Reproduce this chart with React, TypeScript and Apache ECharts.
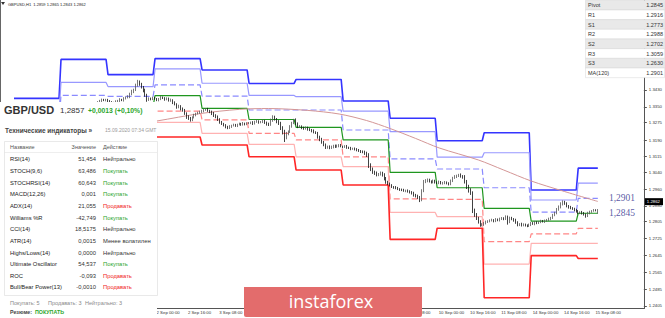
import React, { useEffect, useRef } from "react";
import * as echarts from "echarts";

// ---------- data ----------
const CAT_DAYS = ["28 Aug", "31 Aug", "1 Sep", "2 Sep", "3 Sep", "4 Sep", "7 Sep", "8 Sep", "9 Sep", "10 Sep", "11 Sep", "14 Sep", "15 Sep", "16 Sep"];
const CAT_DAY_BARS = [24, 24, 24, 24, 24, 24, 24, 24, 24, 24, 24, 24, 24, 10];
// bars with price data per day (last day is partial)
const DAY_BARS = [24, 24, 24, 24, 24, 24, 24, 24, 24, 24, 24, 24, 11];

// daily pivot levels (28 Aug ... 15 Sep)
const R3 = [1.3390, 1.3575, 1.3503, 1.3579, 1.3525, 1.3461, 1.3480, 1.3378, 1.3296, 1.3189, 1.3227, 1.2955, 1.3059];
const R2 = [1.3325, 1.3466, 1.3446, 1.3530, 1.3462, 1.3404, 1.3398, 1.3330, 1.3232, 1.3111, 1.3132, 1.2908, 1.2988];
const R1 = [1.3285, 1.3404, 1.3400, 1.3454, 1.3401, 1.3335, 1.3335, 1.3240, 1.3103, 1.3055, 1.2966, 1.2850, 1.2916];
const PIVOT = [1.3218, 1.3340, 1.3352, 1.3403, 1.3343, 1.3290, 1.3253, 1.3193, 1.3039, 1.2966, 1.2868, 1.2808, 1.2845];
const S1 = [1.3176, 1.3280, 1.3310, 1.3330, 1.3288, 1.3224, 1.3193, 1.3113, 1.2913, 1.2911, 1.2710, 1.2747, 1.2773];
const S2 = [1.3110, 1.3215, 1.3258, 1.3276, 1.3224, 1.3172, 1.3113, 1.3066, 1.2849, 1.2829, 1.2604, 1.2702, 1.2702];
const S3 = [1.3068, 1.3150, 1.3215, 1.3207, 1.3169, 1.3113, 1.3050, 1.2979, 1.2721, 1.2774, 1.2444, 1.2644, 1.2630];

// hourly closes in pips (1.2862 -> 12862)
const CLOSE = [
  13245, 13252, 13248, 13258, 13262, 13255, 13268, 13275, 13271, 13280, 13292, 13288, 13297, 13301, 13310, 13305, 13318, 13325, 13330, 13336, 13342, 13338, 13345, 13349,
  13340, 13334, 13342, 13338, 13345, 13341, 13336, 13344, 13348, 13343, 13339, 13346, 13350, 13344, 13348, 13352, 13347, 13355, 13362, 13372, 13379, 13383, 13381, 13384,
  13376, 13372, 13368, 13371, 13375, 13378, 13384, 13381, 13390, 13394, 13397, 13410, 13422, 13430, 13452, 13468, 13458, 13444, 13428, 13406, 13384, 13390, 13386, 13392,
  13388, 13382, 13386, 13394, 13392, 13385, 13389, 13380, 13382, 13370, 13362, 13349, 13352, 13340, 13335, 13318, 13302, 13295, 13288, 13300, 13311, 13318, 13322, 13326,
  13330, 13335, 13338, 13331, 13326, 13318, 13310, 13302, 13290, 13278, 13270, 13262, 13255, 13250, 13256, 13261, 13264, 13260, 13266, 13269, 13265, 13271, 13268, 13272,
  13273, 13276, 13270, 13279, 13282, 13276, 13278, 13284, 13275, 13268, 13264, 13285, 13302, 13292, 13280, 13273, 13250, 13231, 13205, 13222, 13231, 13255, 13273, 13288,
  13270, 13254, 13258, 13250, 13246, 13252, 13243, 13240, 13236, 13230, 13226, 13207, 13196, 13183, 13170, 13159, 13162, 13155, 13160, 13166, 13161, 13164, 13169, 13162,
  13159, 13163, 13157, 13155, 13150, 13153, 13148, 13145, 13141, 13138, 13136, 13130, 13121, 13074, 13055, 13041, 13035, 13027, 13031, 13036, 13027, 13010, 12993, 12985,
  12978, 12970, 12968, 12965, 12960, 12957, 12955, 12951, 12953, 12948, 12946, 12940, 12932, 12927, 12922, 12910, 12951, 12993, 12998, 13003, 12996, 12993, 12998, 12991,
  12989, 12994, 12986, 12989, 12992, 12987, 12984, 12998, 13012, 13018, 13022, 13027, 13020, 13017, 12995, 12970, 12955, 12941, 12860, 12840, 12823, 12805, 12789, 12792,
  12798, 12804, 12808, 12811, 12813, 12809, 12815, 12812, 12818, 12822, 12819, 12827, 12805, 12823, 12818, 12813, 12802, 12789, 12794, 12789, 12792, 12787, 12785, 12790,
  12799, 12795, 12802, 12799, 12804, 12808, 12806, 12811, 12813, 12818, 12823, 12835, 12846, 12862, 12875, 12888, 12898, 12890, 12879, 12874, 12870, 12866, 12860, 12855,
  12846, 12850, 12846, 12840, 12832, 12846, 12852, 12856, 12860, 12859, 12862,
];
// upper / lower wick lengths in pips
const WICK_UP = [
  6, 4, 5, 7, 3, 5, 6, 4, 8, 5, 6, 7, 4, 5, 6, 3, 7, 5, 4, 6, 5, 7, 4, 5,
  5, 6, 4, 7, 5, 3, 6, 4, 5, 7, 6, 4, 5, 8, 6, 5, 4, 7, 6, 5, 4, 6, 5, 4,
  4, 6, 5, 3, 6, 5, 7, 4, 6, 5, 8, 7, 9, 6, 8, 10, 7, 6, 5, 8, 6, 5, 4, 6,
  5, 4, 6, 7, 5, 4, 6, 5, 7, 4, 6, 5, 8, 6, 7, 5, 6, 8, 7, 5, 6, 4, 5, 6,
  6, 5, 4, 7, 5, 6, 8, 5, 7, 6, 5, 4, 6, 5, 7, 4, 6, 5, 4, 6, 5, 7, 4, 5,
  5, 4, 6, 5, 7, 4, 5, 6, 4, 5, 7, 9, 8, 6, 5, 7, 6, 8, 10, 9, 7, 8, 6, 5,
  7, 6, 5, 4, 6, 5, 4, 6, 5, 7, 4, 5, 6, 7, 5, 6, 4, 5, 6, 4, 5, 7, 4, 5,
  4, 5, 6, 4, 5, 3, 4, 6, 5, 4, 5, 6, 7, 9, 8, 7, 6, 8, 5, 7, 6, 8, 7, 6,
  6, 5, 4, 6, 5, 4, 5, 6, 4, 5, 6, 4, 7, 5, 6, 5, 8, 10, 9, 7, 6, 5, 7, 6,
  5, 6, 4, 5, 6, 4, 5, 7, 6, 8, 6, 5, 7, 6, 9, 8, 10, 9, 8, 7, 6, 5, 7, 6,
  5, 6, 4, 5, 6, 4, 7, 5, 6, 5, 4, 8, 7, 6, 5, 4, 6, 5, 4, 6, 5, 4, 5, 6,
  5, 4, 6, 5, 4, 6, 5, 4, 5, 6, 5, 7, 6, 8, 7, 9, 8, 6, 7, 5, 6, 4, 5, 6,
  5, 4, 6, 5, 4, 6, 5, 4, 5, 4, 3,
];
const WICK_DN = [
  5, 6, 4, 5, 7, 4, 5, 6, 4, 6, 5, 4, 7, 5, 4, 6, 5, 4, 6, 5, 7, 4, 5, 6,
  6, 5, 7, 4, 5, 6, 4, 7, 5, 4, 6, 5, 4, 6, 5, 7, 4, 5, 6, 4, 5, 6, 4, 5,
  5, 7, 6, 5, 4, 6, 5, 4, 6, 5, 4, 6, 5, 7, 5, 6, 8, 7, 9, 8, 10, 6, 5, 4,
  4, 5, 6, 4, 5, 6, 4, 5, 6, 7, 5, 8, 6, 7, 8, 6, 9, 7, 8, 6, 5, 6, 4, 5,
  5, 6, 4, 5, 6, 7, 8, 6, 7, 8, 6, 5, 7, 6, 5, 6, 4, 5, 6, 4, 5, 4, 6, 5,
  4, 5, 6, 4, 5, 6, 4, 5, 6, 7, 5, 4, 6, 7, 8, 9, 10, 12, 22, 9, 7, 5, 4, 5,
  6, 5, 4, 6, 5, 4, 6, 5, 7, 6, 5, 8, 9, 8, 7, 9, 8, 6, 5, 7, 6, 5, 6, 4,
  5, 4, 6, 5, 6, 4, 5, 6, 5, 7, 6, 8, 9, 14, 10, 9, 8, 7, 6, 7, 8, 9, 8, 7,
  6, 5, 7, 6, 5, 6, 5, 4, 6, 5, 7, 6, 8, 7, 9, 12, 8, 6, 5, 6, 5, 7, 6, 5,
  5, 6, 4, 5, 6, 5, 7, 6, 5, 4, 6, 5, 6, 8, 9, 10, 12, 9, 14, 12, 10, 9, 8, 6,
  7, 6, 5, 6, 5, 7, 6, 5, 6, 5, 7, 6, 14, 7, 6, 8, 7, 6, 5, 7, 6, 5, 6, 5,
  6, 5, 7, 6, 5, 6, 5, 7, 6, 5, 6, 5, 4, 6, 5, 7, 6, 5, 6, 7, 6, 5, 6, 7,
  6, 5, 7, 6, 8, 5, 6, 5, 4, 5, 16,
];
// MA(120) read at bar indices: [bar, pips]
const MA120 = [
  [0, 13190], [40, 13235], [73, 13283], [95, 13318], [115, 13338], [130, 13342], [150, 13333],
  [166, 13316], [180, 13285], [192, 13247], [205, 13200], [217, 13155], [237, 13098], [250, 13050],
  [264, 12998], [280, 12951], [298, 12901],
];
const Y_TICKS = [1.2405, 1.2485, 1.2565, 1.2645, 1.2725, 1.2805, 1.2880, 1.2960, 1.3040, 1.3115, 1.3190, 1.3275, 1.3350, 1.3430];
// x labels that are not covered by the info panel / logo in the reference
const X_LABEL_BARS = [72, 88, 104, 200, 216, 232, 248, 264, 280, 296];
const LAST_PRICE = 1.2862;
const MA_LAST = 1.2901;
const PIVOT_LAST = 1.2845;

const PIVOT_TABLE = [
  ["Pivot", "1.2845"], ["R1", "1.2916"], ["S1", "1.2773"], ["R2", "1.2988"],
  ["S2", "1.2702"], ["R3", "1.3059"], ["S3", "1.2630"], ["MA(120)", "1.2901"],
];
const INDICATORS = [
  ["RSI(14)", "51,454", "Нейтрально"],
  ["STOCH(9,6)", "63,486", "Покупать"],
  ["STOCHRSI(14)", "60,643", "Покупать"],
  ["MACD(12,26)", "0,001", "Покупать"],
  ["ADX(14)", "21,055", "Продавать"],
  ["Williams %R", "-42,749", "Покупать"],
  ["CCI(14)", "18,5175", "Нейтрально"],
  ["ATR(14)", "0,0015", "Менее волатилен"],
  ["Highs/Lows(14)", "0,0000", "Нейтрально"],
  ["Ultimate Oscillator", "54,537", "Покупать"],
  ["ROC", "-0,093", "Продавать"],
  ["Bull/Bear Power(13)", "-0,0010", "Продавать"],
];

// ---------- build ----------
const FONT = "'Liberation Sans', Arial, sans-serif";
const pad2 = (n: number) => (n < 10 ? "0" + n : "" + n);
const categories: string[] = [];
CAT_DAYS.forEach((d, k) => {
  for (let h = 0; h < CAT_DAY_BARS[k]; h++) categories.push(`${d} ${pad2(h)}:00`);
});

function levelData(levels: number[]) {
  const out: number[][] = [];
  let s = 0;
  levels.forEach((v, d) => {
    out.push([s, v]);
    out.push([s + DAY_BARS[d] - 1, v]);
    s += DAY_BARS[d];
  });
  return out;
}

const candles = CLOSE.map((c, i) => {
  const o = i === 0 ? c : CLOSE[i - 1];
  const hi = Math.max(o, c) + WICK_UP[i];
  const lo = Math.min(o, c) - WICK_DN[i];
  return [o / 1e4, c / 1e4, lo / 1e4, hi / 1e4];
});

const showLabel = (i: number) => X_LABEL_BARS.indexOf(i) >= 0;

function lvl(name: string, levels: number[], color: string, width: number, dashed = false) {
  return {
    type: "line",
    name,
    data: levelData(levels),
    symbol: "none",
    silent: true,
    z: 2,
    lineStyle: { color, width, type: dashed ? [6, 3] : "solid" },
  };
}

function txt(x: number, y: number, text: string, size: number, fill = "#333", weight: any = "normal", align = "left", family = FONT) {
  return {
    type: "text",
    x,
    y,
    z: 101,
    silent: true,
    style: { text, fill, fontSize: size, fontWeight: weight, fontFamily: family, align, verticalAlign: "middle" },
  };
}

const actionColor = (a: string) => (a === "Покупать" ? "#2aa52a" : a === "Продавать" ? "#f02424" : "#333");

const graphics: any[] = [];
// chart frame bits
graphics.push({ type: "line", z: 100, silent: true, shape: { x1: 0.5, y1: 0, x2: 0.5, y2: 102 }, style: { stroke: "#666", lineWidth: 1 } });
graphics.push({ type: "polygon", z: 100, silent: true, shape: { points: [[1, 2], [5, 2], [3, 5]] }, style: { fill: "#333" } });
graphics.push(txt(8, 4, "GBPUSD,H1  1.2859 1.2865 1.2843 1.2862", 4, "#222"));

// pivot table top-right
PIVOT_TABLE.forEach((r, k) => {
  const y0 = 0.3 + k * 9.67;
  graphics.push({ type: "rect", z: 100, silent: true, shape: { x: 585.5, y: y0, width: 79, height: 9.67 }, style: { fill: k % 2 === 0 ? "#e9e9e9" : "#ffffff", stroke: "#d6d6d6", lineWidth: 0.5 } });
  graphics.push(txt(588, y0 + 4.9, r[0], 5.5, "#333"));
  graphics.push(txt(663, y0 + 4.9, r[1], 5.5, "#333", "normal", "right"));
});

// left info panel
graphics.push({ type: "rect", z: 100, silent: true, shape: { x: 0, y: 102, width: 157, height: 216 }, style: { fill: "#ffffff" } });
graphics.push(txt(4, 110, "GBP/USD", 11, "#333", "bold"));
graphics.push(txt(60, 110.5, "1,2857", 8, "#333"));
graphics.push(txt(88, 110.5, "+0,0013 (+0,10%)", 6.8, "#2aa52a", "bold"));
graphics.push(txt(5, 130, "Технические индикаторы »", 6.5, "#444", "bold"));
graphics.push(txt(105, 130, "15.09.2020 07:34 GMT", 5, "#9a9a9a"));
graphics.push({ type: "rect", z: 100, silent: true, shape: { x: 4.5, y: 141.5, width: 153, height: 154 }, style: { fill: "#ffffff", stroke: "#dadada", lineWidth: 0.6 } });
graphics.push(txt(10, 147.3, "Название", 5.5, "#555"));
graphics.push(txt(96, 147.3, "Значение", 5.5, "#555", "normal", "right"));
graphics.push(txt(103, 147.3, "Действие", 5.5, "#555"));
graphics.push({ type: "line", z: 100, silent: true, shape: { x1: 4.5, y1: 152.5, x2: 157, y2: 152.5 }, style: { stroke: "#e2e2e2", lineWidth: 0.6 } });
INDICATORS.forEach((r, k) => {
  const y = 159.3 + k * 11.65;
  graphics.push(txt(10, y, r[0], 5.8, "#222"));
  graphics.push(txt(96, y, r[1], 5.8, "#333", "normal", "right"));
  graphics.push(txt(103, y, r[2], 5.8, actionColor(r[2])));
});
graphics.push(txt(10, 302.7, "Покупать: 5", 5.5, "#8a8a8a"));
graphics.push(txt(48, 302.7, "Продавать: 3", 5.5, "#8a8a8a"));
graphics.push(txt(85, 302.7, "Нейтрально: 3", 5.5, "#8a8a8a"));
graphics.push(txt(10, 312.3, "Резюме:", 5.3, "#444", "bold"));
graphics.push(txt(35, 312.3, "ПОКУПАТЬ", 5.3, "#2aa52a", "bold"));

// logo
graphics.push({ type: "rect", z: 100, silent: true, shape: { x: 244, y: 287, width: 178, height: 30, r: [0, 0, 2, 2] }, style: { fill: "#e36c6c" } });
graphics.push(txt(331, 300.5, "instaforex", 18, "#ffffff", "normal", "center", "'Open Sans', 'Noto Sans', sans-serif"));

const option: any = {
  animation: false,
  backgroundColor: "#ffffff",
  grid: { left: 13, right: 21, top: 0, bottom: 9.5, containLabel: false },
  xAxis: {
    type: "category",
    data: categories,
    boundaryGap: true,
    axisLine: { lineStyle: { color: "#555", width: 1 } },
    axisTick: { interval: (i: number) => i % 16 === 8 && i < CLOSE.length, alignWithLabel: true, length: 3, lineStyle: { color: "#555" } },
    axisLabel: {
      interval: (i: number) => showLabel(i),
      fontSize: 4.3,
      color: "#333",
      align: "left",
      margin: 2,
      padding: [0, 0, 0, 1.5],
      fontFamily: FONT,
      hideOverlap: false,
    },
    splitLine: { show: false },
  },
  yAxis: {
    type: "value",
    position: "right",
    min: 1.2393,
    max: 1.3857,
    axisLine: { show: true, lineStyle: { color: "#555", width: 1 } },
    axisTick: { show: true, length: 3, customValues: Y_TICKS, lineStyle: { color: "#555" } },
    axisLabel: { customValues: Y_TICKS, formatter: (v: number) => v.toFixed(4), fontSize: 4.3, color: "#333", margin: 5, fontFamily: FONT },
    splitLine: { show: false },
  },
  graphic: { elements: graphics },
  series: [
    lvl("R3", R3, "#3434ff", 1.6),
    lvl("R2", R2, "#9898ff", 1.2),
    lvl("R1", R1, "#8a8aff", 1.2, true),
    lvl("Pivot", PIVOT, "#1f961f", 1.2),
    lvl("S1", S1, "#ff8686", 1.2, true),
    lvl("S2", S2, "#ffb2b2", 1.2),
    lvl("S3", S3, "#ff2626", 1.6),
    {
      type: "line",
      name: "MA(120)",
      data: MA120.map((p) => [p[0], p[1] / 1e4]),
      symbol: "none",
      smooth: 0.3,
      silent: true,
      z: 2,
      lineStyle: { color: "#d49696", width: 1 },
    },
    {
      type: "candlestick",
      name: "GBPUSD",
      data: candles,
      barWidth: 1.3,
      silent: true,
      z: 3,
      itemStyle: { color: "#808080", color0: "#111111", borderColor: "#555555", borderColor0: "#111111", borderWidth: 0.8 },
      markLine: {
        silent: true,
        symbol: ["none", "none"],
        data: [{ yAxis: LAST_PRICE }],
        lineStyle: { color: "rgba(0,0,0,0)", width: 0 },
        label: {
          show: true,
          position: "end",
          distance: 1,
          formatter: LAST_PRICE.toFixed(4),
          backgroundColor: "#000",
          color: "#fff",
          fontSize: 4.3,
          fontFamily: FONT,
          padding: [1.5, 3, 1.5, 2],
        },
      },
    },
    {
      type: "scatter",
      name: "labels",
      symbolSize: 0,
      silent: true,
      z: 4,
      data: [
        { value: [318, MA_LAST], label: { offset: [0, -3] } },
        { value: [318, PIVOT_LAST], label: { offset: [0, 0] } },
      ],
      label: {
        show: true,
        position: "left",
        distance: 2,
        formatter: (p: any) => p.value[1].toFixed(4).replace(".", ","),
        color: "#2d2d8c",
        fontSize: 9.5,
        fontFamily: "'Liberation Serif', 'DejaVu Serif', serif",
      },
    },
  ],
};

export default function App() {
  const ref = useRef<HTMLDivElement>(null);
  useEffect(() => {
    document.body.style.margin = "0";
    const chart = echarts.init(ref.current as HTMLDivElement, null, { renderer: "svg" });
    chart.setOption(option);
    return () => chart.dispose();
  }, []);
  return <div ref={ref} style={{ width: 665, height: 318 }} />;
}
